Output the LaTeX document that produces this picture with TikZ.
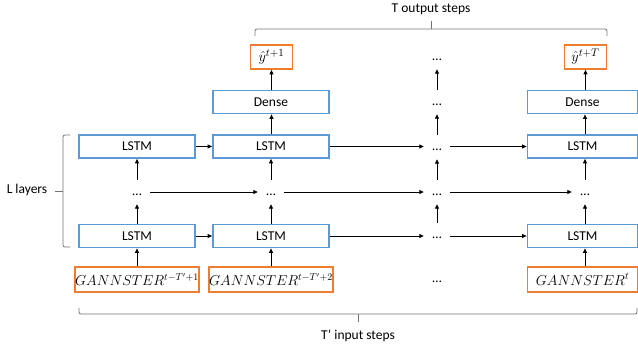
\documentclass[tikz,border=0pt]{standalone}
\usepackage{fontspec}
\setmainfont{Carlito}
\usetikzlibrary{arrows.meta}
\definecolor{bblue}{RGB}{91,155,213}
\definecolor{borange}{RGB}{237,125,49}
\begin{document}
\begin{tikzpicture}[x=1pt,y=-1pt, font=\fontsize{13.5}{16}\selectfont,
 box/.style={draw=bblue, line width=1.8pt, minimum width=116pt, minimum height=23pt, inner sep=0pt},
 inbox/.style={draw=borange, line width=1.8pt, minimum width=116pt, minimum height=25pt, inner sep=0pt, font=\fontsize{14.8}{18}\selectfont},
 outbox/.style={draw=borange, line width=1.8pt, minimum width=42pt, minimum height=24pt, inner sep=0pt, font=\fontsize{15.5}{18}\selectfont},
 dotn/.style={inner sep=0pt, minimum width=26pt, text height=16pt, text depth=8pt, anchor=base},
 arr/.style={-{Triangle[length=4.5pt,width=4pt]}, line width=0.8pt},
 brace/.style={draw=black!55, line width=0.8pt, rounded corners=2pt}]
\useasboundingbox (0,0) rectangle (638,347);
% boxes
\node[box] (l1t) at (137,146.5) {LSTM};
\node[box] (l2t) at (271,146.5) {LSTM};
\node[box, minimum width=110pt] (l4t) at (582.5,146.5) {LSTM};
\node[box] (l1b) at (137,236) {LSTM};
\node[box] (l2b) at (271,236) {LSTM};
\node[box, minimum width=110pt] (l4b) at (582.5,236) {LSTM};
\node[inbox] (i1) at (137,279.5) {$GANNSTER^{t-T'+1}$};
\node[inbox] (i2) at (271,279.5) {$GANNSTER^{t-T'+2}$};
\node[inbox, minimum width=110pt] (i4) at (582.5,279.5) {$GANNSTER^{t}$};
\node[box] (d2) at (271,102) {Dense};
\node[box, minimum width=110pt] (d4) at (582.5,102) {Dense};
\node[outbox] (o2) at (271.5,57) {${\hat{y}}^{t+1}$};
\node[outbox] (o4) at (585.5,57) {${\hat{y}}^{t+T}$};
% dots
\node[dotn] (m1) at (137,196) {\ldots};
\node[dotn] (m2) at (271,196) {\ldots};
\node[dotn] (m3) at (437,196) {\ldots};
\node[dotn] (m4) at (585,196) {\ldots};
\node[dotn] (t3) at (437,151) {\ldots};
\node[dotn] (b3) at (437,239) {\ldots};
\node[dotn] (d3) at (437,106) {\ldots};
\node[dotn] (o3) at (437,61) {\ldots};
\node[dotn] (i3) at (437,283) {\ldots};
% vertical arrows
\draw[arr] (i1) -- (l1b);
\draw[arr] (l1b) -- (m1);
\draw[arr] (m1) -- (l1t);
\draw[arr] (i2) -- (l2b);
\draw[arr] (l2b) -- (m2);
\draw[arr] (m2) -- (l2t);
\draw[arr] (l2t.north -| o2) -- (d2.south -| o2);
\draw[arr] (d2.north -| o2) -- (o2);
\draw[arr] (b3) -- (m3);
\draw[arr] (m3) -- (t3);
\draw[arr] (t3) -- (d3);
\draw[arr] (d3) -- (o3);
\draw[arr] (i4.north -| m4) -- (l4b.south -| m4);
\draw[arr] (l4b.north -| m4) -- (m4);
\draw[arr] (m4) -- (l4t.south -| m4);
\draw[arr] (l4t.north -| m4) -- (d4.south -| m4);
\draw[arr] (d4.north -| o4) -- (o4);
% horizontal arrows
\draw[arr] (l1t) -- (l2t);
\draw[arr] (l2t.east) -- (l2t.east -| t3.west);
\draw[arr] (t3.east |- l4t) -- (l4t.west);
\draw[arr] (m1) -- (m2);
\draw[arr] (m2) -- (m3);
\draw[arr] (m3) -- (m4);
\draw[arr] (l1b) -- (l2b);
\draw[arr] (l2b.east) -- (l2b.east -| b3.west);
\draw[arr] (b3.east |- l4b) -- (l4b.west);
% braces
\draw[brace] (255,36) -- (255,29) -- (607,29) -- (607,36);
\draw[brace] (431,29) -- (431,21);
\node (tout) at (431,9) {T output steps};
\draw[brace] (79,308) -- (79,314) -- (637,314) -- (637,308);
\draw[brace] (358,314) -- (358,322);
\node (tin) at (358,336) {T’ input steps};
\draw[brace] (70,135) -- (63,135) -- (63,247) -- (70,247);
\draw[brace] (63,191) -- (55,191);
\node (ll) at (27,190) {L layers};
\end{tikzpicture}
\end{document}
